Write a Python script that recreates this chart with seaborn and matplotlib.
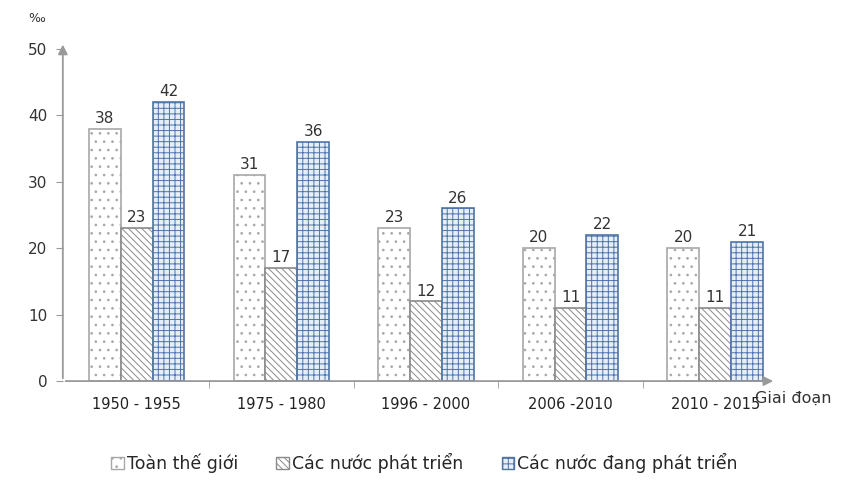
import pandas as pd
import matplotlib.pyplot as plt
import seaborn as sns
from matplotlib.patches import Patch

periods = ['1950 - 1955', '1975 - 1980', '1996 - 2000', '2006 -2010', '2010 - 2015']
groups = ['Toàn thế giới', 'Các nước phát triển', 'Các nước đang phát triển']
world = [38, 31, 23, 20, 20]
developed = [23, 17, 12, 11, 11]
developing = [42, 36, 26, 22, 21]

df = pd.DataFrame({
    'period': periods * 3,
    'group': [groups[0]] * 5 + [groups[1]] * 5 + [groups[2]] * 5,
    'value': world + developed + developing,
})

sns.set_style('white')
plt.rcParams['font.family'] = ['DejaVu Sans']
plt.rcParams['hatch.linewidth'] = 0.7

fig = plt.figure(figsize=(8.49, 4.93), dpi=100)
ax = fig.add_axes([0.074, 0.227, 0.84, 0.678])

sns.barplot(data=df, x='period', y='value', hue='group', order=periods, hue_order=groups,
            width=0.66, gap=0, ax=ax, legend=False)

styles = [
    dict(face='white', edge='#a8a8a8', hatch='..'),
    dict(face='white', edge='#8a8a8a', hatch='\\\\\\\\\\'),
    dict(face='#e6eef8', edge='#4f74a8', hatch='+++'),
]
for cont, st in zip(ax.containers, styles):
    for bar in cont:
        bar.set_facecolor(st['face'])
        bar.set_edgecolor(st['edge'])
        bar.set_hatch(st['hatch'])
        bar.set_linewidth(1.2)
    ax.bar_label(cont, padding=2, fontsize=11, color='#333333')

ax.set_ylim(0, 50.3)
ax.set_xlim(-0.51, 4.42)
ax.set_yticks([0, 10, 20, 30, 40, 50])
ax.set_xlabel('')
ax.set_ylabel('')
for s in ax.spines.values():
    s.set_visible(False)

ax.tick_params(axis='y', left=True, length=5, color='#999999', labelsize=11, labelcolor='#333333', pad=6)
ax.tick_params(axis='x', bottom=False, labelsize=10.5, labelcolor='#222222', pad=8)
ax.set_xticks([0.5, 1.5, 2.5, 3.5], minor=True)
ax.tick_params(axis='x', which='minor', bottom=True, length=5, color='#999999')

# axes with arrowheads
ax.annotate('', xy=(0, 1.015), xytext=(0, 0), xycoords='axes fraction',
            arrowprops=dict(arrowstyle='-|>', color='#999999', lw=1.3, mutation_scale=14))
ax.annotate('', xy=(1.0, 0), xytext=(0, 0), xycoords='axes fraction',
            arrowprops=dict(arrowstyle='-|>', color='#999999', lw=1.3, mutation_scale=14))

fig.text(0.033, 0.955, '‰', fontsize=9, color='#333333')
fig.text(0.889, 0.183, 'Giai đoạn', fontsize=11.5, color='#333333')

handles = [Patch(facecolor=st['face'], edgecolor=st['edge'], hatch=st['hatch']) for st in styles]
fig.legend(handles, groups, loc='center', bbox_to_anchor=(0.5, 0.06), ncol=3, frameon=False,
           fontsize=12.5, handlelength=0.7, handleheight=0.7, handletextpad=0.2, columnspacing=2.2)

fig.savefig('out.png', dpi=100)
